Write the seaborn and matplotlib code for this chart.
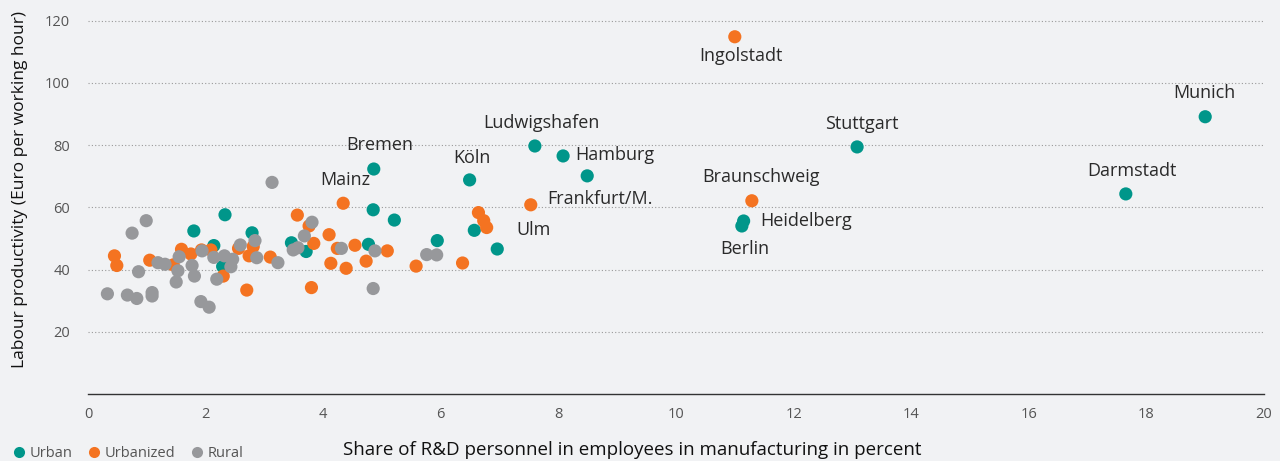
import numpy as np
import pandas as pd
import matplotlib.pyplot as plt
import seaborn as sns

# -----------------------------
# Data
# -----------------------------
urban_x = [1.80, 2.33, 2.14, 2.29, 2.79, 3.46, 3.71, 4.77, 4.86, 4.85, 5.21, 5.94,
           6.49, 6.57, 6.96, 7.60, 8.08, 8.49, 11.12, 11.15, 13.08, 17.65, 19.00]
urban_y = [52.4, 57.6, 47.7, 41.0, 51.8, 48.6, 45.8, 48.1, 72.3, 59.2, 55.9, 49.3,
           68.8, 52.6, 46.6, 79.7, 76.5, 70.1, 54.0, 55.6, 79.4, 64.3, 89.1]

urbanized_x = [0.45, 0.49, 1.05, 1.45, 1.59, 1.75, 1.93, 2.09, 2.30, 2.56, 2.70, 2.74,
               2.81, 3.10, 3.56, 3.76, 3.80, 3.84, 4.10, 4.13, 4.24, 4.34, 4.39, 4.54,
               4.73, 5.09, 5.58, 6.37, 6.64, 6.73, 6.78, 7.53, 11.00, 11.29]
urbanized_y = [44.4, 41.3, 43.0, 41.5, 46.5, 45.0, 46.3, 46.3, 37.9, 46.8, 33.4, 44.4,
               47.4, 44.0, 57.5, 54.0, 34.2, 48.4, 51.2, 42.0, 46.8, 61.3, 40.4, 47.8,
               42.7, 46.0, 41.1, 42.1, 58.3, 55.7, 53.5, 60.8, 114.8, 62.1]

rural_x = [0.33, 0.67, 0.75, 0.83, 0.86, 0.99, 1.09, 1.09, 1.19, 1.31, 1.50, 1.53,
           1.55, 1.77, 1.81, 1.92, 1.94, 2.06, 2.14, 2.19, 2.32, 2.43, 2.46, 2.59,
           2.84, 2.87, 3.13, 3.23, 3.49, 3.57, 3.68, 3.81, 4.31, 4.85, 4.88, 5.76, 5.93]
rural_y = [32.2, 31.8, 51.7, 30.7, 39.3, 55.7, 32.6, 31.5, 42.2, 41.7, 36.0, 39.6,
           44.1, 41.3, 37.9, 29.7, 46.0, 27.9, 43.9, 36.9, 44.4, 40.9, 43.3, 47.9,
           49.3, 43.8, 68.0, 42.2, 46.3, 47.0, 50.8, 55.2, 46.8, 33.9, 46.0, 44.8, 44.7]

# labelled cities: name -> (x, y) of the point
cities = {
    'Ingolstadt': (11.00, 114.8),
    'Munich': (19.00, 89.1),
    'Stuttgart': (13.08, 79.4),
    'Darmstadt': (17.65, 64.3),
    'Ludwigshafen': (7.60, 79.7),
    'Hamburg': (8.08, 76.5),
    'Köln': (6.49, 68.8),
    'Bremen': (4.86, 72.3),
    'Mainz': (4.85, 59.2),
    'Frankfurt/M.': (7.53, 60.8),
    'Ulm': (7.53, 60.8),
    'Braunschweig': (11.29, 62.1),
    'Heidelberg': (11.15, 55.6),
    'Berlin': (11.12, 54.0),
}
# label placement: (dx px, dy px, ha)
label_offsets = {
    'Ingolstadt': (6, -19, 'center'),
    'Munich': (-1, 24, 'center'),
    'Stuttgart': (5, 23, 'center'),
    'Darmstadt': (6, 23, 'center'),
    'Ludwigshafen': (7, 23, 'center'),
    'Hamburg': (12, 1, 'left'),
    'Köln': (2, 22, 'center'),
    'Bremen': (6, 24, 'center'),
    'Mainz': (-28, 30, 'center'),
    'Frankfurt/M.': (16, 6, 'left'),
    'Ulm': (3, -25, 'center'),
    'Braunschweig': (9, 24, 'center'),
    'Heidelberg': (17, 0, 'left'),
    'Berlin': (3, -23, 'center'),
}

df = pd.DataFrame({
    'x': urban_x + urbanized_x + rural_x,
    'y': urban_y + urbanized_y + rural_y,
    'type': ['Urban'] * len(urban_x) + ['Urbanized'] * len(urbanized_x) + ['Rural'] * len(rural_x),
})

palette = {'Urban': '#00968a', 'Urbanized': '#f47321', 'Rural': '#97989b'}
bg = '#f1f2f4'

# -----------------------------
# Plot
# -----------------------------
sns.set_style('white')
plt.rcParams['font.family'] = ['Open Sans', 'DejaVu Sans']

fig = plt.figure(figsize=(12.8, 4.61), dpi=100, facecolor=bg)
ax = fig.add_axes([0.06875, 0.1453, 0.91875, 0.8438])
ax.set_facecolor(bg)

sns.scatterplot(data=df, x='x', y='y', hue='type', palette=palette,
                s=90, linewidth=0, ax=ax, legend=False, zorder=3)

for name, (cx, cy) in cities.items():
    dx, dy, ha = label_offsets[name]
    ax.annotate(name, (cx, cy), xytext=(dx, dy), textcoords='offset pixels',
                ha=ha, va='center', fontsize=13, color='#2a2a2a', zorder=4)

ax.set_xlim(0, 20)
ax.set_ylim(0, 125)
ax.set_xticks(np.arange(0, 21, 2))
ax.set_yticks(np.arange(20, 121, 20))
ax.yaxis.grid(True, linestyle=(0, (1, 2)), color='#9a9a9a', linewidth=0.8)
ax.xaxis.grid(False)

for side in ['top', 'right', 'left']:
    ax.spines[side].set_visible(False)
ax.spines['bottom'].set_color('#333333')
ax.spines['bottom'].set_linewidth(1)

ax.tick_params(axis='y', length=5, width=1, color='#444444', pad=8,
               labelsize=10.5, labelcolor='#555555')
ax.tick_params(axis='x', length=5, width=1, color='#333333', pad=4,
               labelsize=10.5, labelcolor='#555555')

ax.set_xlabel('Share of R&D personnel in employees in manufacturing in percent',
              fontsize=13.5, color='#111111')
ax.xaxis.set_label_coords(0.4626, -0.122)
ax.set_ylabel('Labour productivity (Euro per working hour)', fontsize=12.5, color='#111111')
ax.yaxis.set_label_coords(-0.051, 0.527)

handles = [plt.Line2D([], [], marker='o', linestyle='', markersize=8,
                      markerfacecolor=palette[k], markeredgewidth=0, label=k)
           for k in ['Urban', 'Urbanized', 'Rural']]
leg = fig.legend(handles=handles, loc='lower left', bbox_to_anchor=(-0.002, -0.028),
                 ncol=3, frameon=False, fontsize=10.5, handletextpad=0.1,
                 columnspacing=0.9, handlelength=1.2)
for t in leg.get_texts():
    t.set_color('#555555')

fig.savefig('out.png', dpi=100, facecolor=bg)
